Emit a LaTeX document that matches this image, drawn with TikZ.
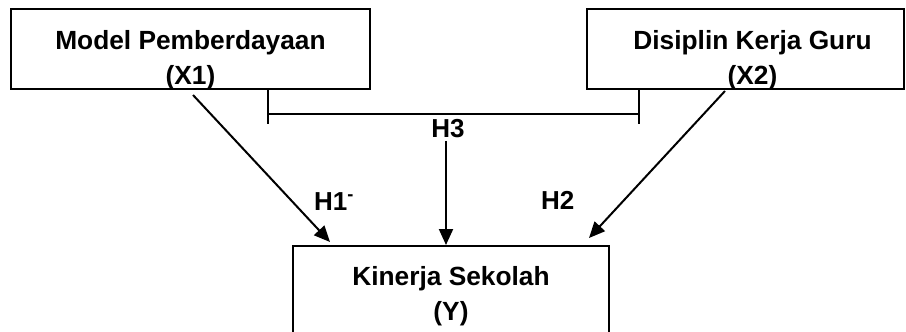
\documentclass[tikz,border=0pt]{standalone}
\usepackage{fontspec}
\setmainfont{Liberation Sans}
\usepackage{tikz}
\usetikzlibrary{arrows.meta, positioning, calc}
\tikzstyle{varbox} = [rectangle, draw=black, line width=2pt, inner sep=0pt]
\tikzstyle{boxtext} = [align=center, inner sep=0pt, font=\fontsize{26.3}{35}\selectfont\bfseries]
\tikzstyle{hyp} = [inner sep=0pt, font=\fontsize{26}{30}\selectfont\bfseries]
\tikzstyle{arrow} = [line width=2pt, -{Triangle[length=16pt,width=14pt]}]

\begin{document}
\begin{tikzpicture}[x=1pt, y=-1pt]
\useasboundingbox (0,0) rectangle (906,332);

% Boxes
\node (x1) [varbox, minimum width=359pt, minimum height=80pt] at (190.5,49) {};
\node (x2) [varbox, minimum width=317pt, minimum height=80pt] at (745.5,49) {};
\node (y) [varbox, minimum width=316pt, minimum height=110pt] at (451,301) {};

% Texts
\node (x1txt) [boxtext, anchor=base] at (190.5,84) {Model Pemberdayaan\\(X1)};
\node (x2txt) [boxtext, anchor=base] at (752.5,84) {Disiplin Kerja Guru\\(X2)};
\node (ytxt) [boxtext, anchor=base] at (451,320) {Kinerja Sekolah\\(Y)};

% Hypotheses
\node (h1) [hyp, anchor=base west] at (314,210) {H1\textsuperscript{-}};
\node (h2) [hyp, anchor=base west] at (541,209) {H2};
\node (h3) [hyp, anchor=base] at (448,137.5) {H3};

% Joint bracket
\coordinate (jl) at ([shift={(-103,0)}]x1.south east);
\coordinate (jr) at ([shift={(53,0)}]x2.south west);
\draw [line width=2pt] (jl) -- ++(0,34);
\draw [line width=2pt] (jr) -- ++(0,34);
\draw [line width=2pt] ([yshift=-24pt]jl) -- ([yshift=-24pt]jr);

% Arrows
\draw [arrow] ([shift={(2.5,5)}]x1.south) -- ([shift={(38,-3)}]y.north west);
\draw [arrow] ([shift={(-20.5,1)}]x2.south) -- ([shift={(-21,-7)}]y.north east);
\draw [arrow] ([shift={(-2,3)}]h3.south) -- ([xshift=-2pt]h3.south |- y.north);

\end{tikzpicture}
\end{document}
